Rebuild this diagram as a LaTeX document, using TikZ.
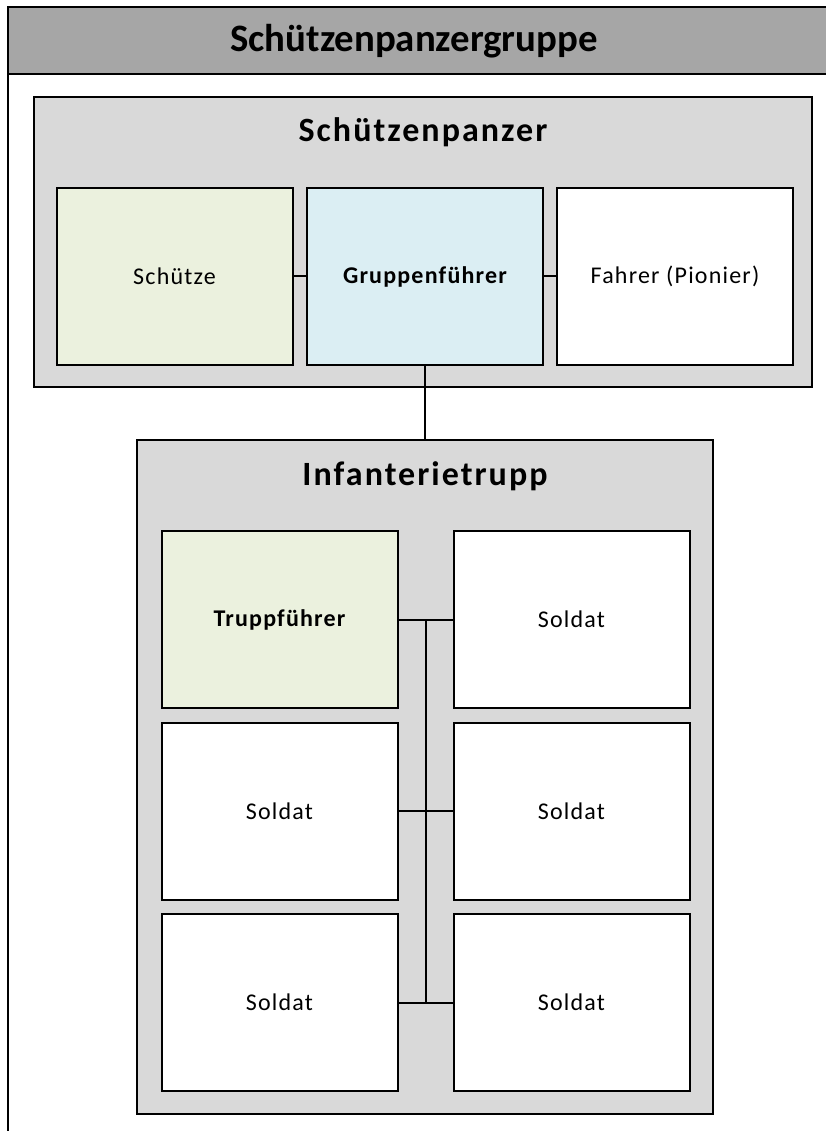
\documentclass[tikz,border=0pt]{standalone}
\usepackage{fontspec}
\setmainfont{Carlito}
\newfontfamily\wideface[LetterSpace=5]{Carlito}
\newfontfamily\titleface[LetterSpace=6]{Carlito}
\usetikzlibrary{calc}
\definecolor{hdrgray}{HTML}{A6A6A6}
\definecolor{groupgray}{HTML}{D9D9D9}
\definecolor{palegreen}{HTML}{EBF1DE}
\definecolor{paleblue}{HTML}{DBEEF3}
\tikzset{
  frame/.style={draw=black, line width=1.5pt},
  group/.style={draw=black, line width=1.5pt, fill=groupgray, rectangle, inner sep=0pt},
  role/.style={draw=black, line width=2pt, rectangle, inner sep=0pt,
    minimum width=236pt, minimum height=177pt, font=\wideface\fontsize{24}{28}\selectfont},
  lead/.style={role, font=\wideface\fontsize{24}{28}\selectfont\bfseries},
  grouptitle/.style={font=\titleface\fontsize{34}{40}\selectfont\bfseries},
  link/.style={draw=black, line width=2pt}
}
\begin{document}
\begin{tikzpicture}[x=1pt, y=-1pt]
  \useasboundingbox (0,0) rectangle (826,1131);
  \clip (0,0) rectangle (826,1131);
  \fill[white] (0,0) rectangle (826,1131);

  % outer frame with its heading band
  \draw[frame] (8,7) rectangle (840,1150);
  \draw[frame, fill=hdrgray] (8,7) rectangle (840,74);
  \node[font=\fontsize{38.8}{44}\selectfont\bfseries] (title) at (414,41) {Schützenpanzergruppe};

  % vehicle crew
  \node[group, minimum width=778pt, minimum height=290pt] (spz) at (423,242) {};
  \node[grouptitle] (spztitle) at (423,132) {Schützenpanzer};
  \node[role, fill=palegreen] (schuetze) at (174.5,276.5) {Schütze};
  \node[lead, fill=paleblue] (gf) at (425,276.5) {Gruppenführer};
  \node[role, fill=white] (fahrer) at (675,276.5) {Fahrer (Pionier)};

  % dismounted team
  \node[group, minimum width=576pt, minimum height=674pt] (inf) at (425,777) {};
  \node[grouptitle] (inftitle) at (425,476) {Infanterietrupp};
  \node[lead, fill=palegreen] (tf) at (279.5,619.5) {Truppführer};
  \node[role, fill=white] (s1) at (571.5,619.5) {Soldat};
  \node[role, fill=white] (s2) at (279.5,811) {Soldat};
  \node[role, fill=white] (s3) at (571.5,811) {Soldat};
  \node[role, fill=white] (s4) at (279.5,1002.5) {Soldat};
  \node[role, fill=white] (s5) at (571.5,1002.5) {Soldat};

  % connectors
  \draw[link] (schuetze.east) -- (gf.west);
  \draw[link] (gf.east) -- (fahrer.west);
  \draw[link] (gf.south) -- (gf.south |- inf.north);
  \draw[link] (tf.east) -- (s1.west);
  \draw[link] (s2.east) -- (s3.west);
  \draw[link] (s4.east) -- (s5.west);
  \coordinate (top) at ($(tf.east)!0.5!(s1.west)$);
  \coordinate (bottom) at ($(s4.east)!0.5!(s5.west)$);
  \draw[link] (top) -- (bottom);
\end{tikzpicture}
\end{document}
